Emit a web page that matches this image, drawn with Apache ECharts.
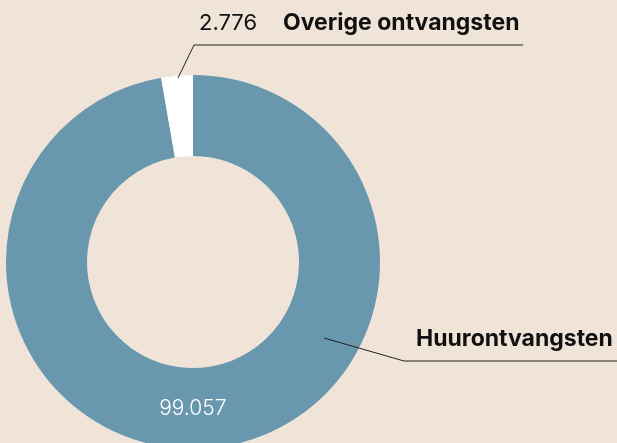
<!DOCTYPE html>
<html><head><meta charset="utf-8">
<script src="https://cdn.jsdelivr.net/npm/echarts@6/dist/echarts.min.js"></script>
<style>html,body{margin:0;padding:0;background:#f0e4d9;}#c{width:617px;height:443px;}</style>
</head><body><div id="c"></div>
<script>
var categories = ['Huurontvangsten', 'Overige ontvangsten'];
var values = [99057, 2776];
var colors = ['#6897ae', '#ffffff'];

function fmt(v){ return String(v).replace(/\B(?=(\d{3})+(?!\d))/g, '.'); }

var FONT = 'Inter';
var chart = echarts.init(document.getElementById('c'));
var dataA = categories.map(function(c,i){
  return {name:c, value:values[i], itemStyle:{color:colors[i]},
    label:{show:i===0}};
});
var dataB = categories.map(function(c,i){ return {name:c, value:values[i]}; });

chart.setOption({
  backgroundColor:'#f0e4d9',
  animation:false,
  series:[{
    type:'pie', center:[193,262], radius:[106,187], startAngle:90, clockwise:true,
    silent:true,
    data:dataA,
    label:{position:'inside', color:'#ffffff', fontFamily:FONT, fontSize:21, fontWeight:300,
      offset:[-13,-2],
      formatter:function(p){ return fmt(p.value); }},
    labelLine:{show:false}
  },{
    type:'pie', center:[193,262], radius:[106,187], startAngle:90, clockwise:true,
    silent:true, z:5,
    itemStyle:{color:'rgba(0,0,0,0)'},
    data:dataB,
    label:{show:true, position:'outside', overflow:'none', color:'#111', fontFamily:FONT,
      formatter:function(p){
        if(p.dataIndex===1) return '{v|'+fmt(p.value)+'}{n|'+p.name+'}';
        return '{n|'+p.name+'}';
      },
      rich:{
        v:{fontFamily:FONT, fontSize:22, fontWeight:400, color:'#111', width:84, align:'left'},
        n:{fontFamily:FONT, fontSize:23, fontWeight:'bold', color:'#111'}
      }
    },
    labelLine:{show:true, lineStyle:{color:'#222', width:1}},
    labelLayout:function(p){
      if(p.dataIndex===1){
        return {x:199, y:23, align:'left', verticalAlign:'middle',
          labelLinePoints:[[178,78],[194,45],[523,45]]};
      }
      return {x:416, y:339, align:'left', verticalAlign:'middle',
        labelLinePoints:[[324,338],[404,361],[617,361]]};
    }
  }]
});
</script></body></html>
